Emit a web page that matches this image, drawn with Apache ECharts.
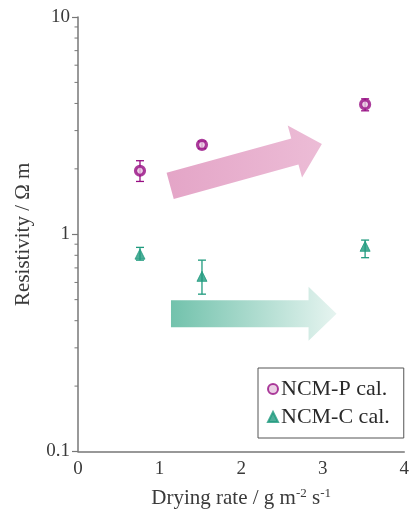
<!DOCTYPE html>
<html>
<head>
<meta charset="utf-8">
<script src="https://cdn.jsdelivr.net/npm/echarts@6/dist/echarts.min.js"></script>
<style>
  html, body { margin: 0; padding: 0; background: #fff; }
  #chart { width: 412px; height: 514px; }
</style>
</head>
<body>
<div id="chart"></div>
<script>
// data
var ncmP = [[0.76, 1.96], [1.52, 2.58], [3.52, 3.96]];
var ncmP_err = [[0.76, 1.75, 2.18], [1.52, 2.48, 2.68], [3.52, 3.70, 4.20]];
var ncmC = [[0.76, 0.81], [1.52, 0.64], [3.52, 0.88]];
var ncmC_err = [[0.76, 0.76, 0.87], [1.52, 0.53, 0.76], [3.52, 0.78, 0.94]];

// trend arrows: [x tail, y tail, x tip, y tip]
var arrowP = [[1.13, 1.67, 2.99, 2.60]];
var arrowC = [[1.14, 0.431, 3.17, 0.431]];

var yMinorTicks = [0.2, 0.3, 0.4, 0.5, 0.6, 0.7, 0.8, 0.9, 2, 3, 4, 5, 6, 7, 8, 9];

var colP = '#970e83';
var colC = '#1f9a7e';
var axisCol = '#777';
var txtCol = '#3a3a3a';
var font = '"Liberation Serif", "DejaVu Serif", serif';

var myChart = echarts.init(document.getElementById('chart'));

function errRender(color) {
    return function (params, api) {
        var x = api.value(0);
        var lo = api.coord([x, api.value(1)]);
        var hi = api.coord([x, api.value(2)]);
        var c = 4;
        var st = { stroke: color, lineWidth: 1.3 };
        return {
            type: 'group',
            children: [
                { type: 'line', shape: { x1: lo[0], y1: lo[1], x2: hi[0], y2: hi[1] }, style: st },
                { type: 'line', shape: { x1: lo[0] - c, y1: lo[1], x2: lo[0] + c, y2: lo[1] }, style: st },
                { type: 'line', shape: { x1: hi[0] - c, y1: hi[1], x2: hi[0] + c, y2: hi[1] }, style: st }
            ]
        };
    };
}

function arrowRender(c0, c1) {
    return function (params, api) {
        var a = api.coord([api.value(0), api.value(1)]);
        var b = api.coord([api.value(2), api.value(3)]);
        var dx = b[0] - a[0], dy = b[1] - a[1];
        var len = Math.sqrt(dx * dx + dy * dy);
        var ux = dx / len, uy = dy / len;
        var nx = -uy, ny = ux;
        var bw = 13.5, hw = 27, hl = 28;
        var hx = b[0] - ux * hl, hy = b[1] - uy * hl;
        var pts = [
            [a[0] + nx * bw, a[1] + ny * bw],
            [hx + nx * bw, hy + ny * bw],
            [hx + nx * hw, hy + ny * hw],
            [b[0], b[1]],
            [hx - nx * hw, hy - ny * hw],
            [hx - nx * bw, hy - ny * bw],
            [a[0] - nx * bw, a[1] - ny * bw]
        ];
        return {
            type: 'polygon',
            shape: { points: pts },
            style: {
                fill: new echarts.graphic.LinearGradient(0, 0.5, 1, 0.5, [
                    { offset: 0, color: c0 },
                    { offset: 1, color: c1 }
                ])
            }
        };
    };
}

function minorTickRender(params, api) {
    var p = api.coord([0, api.value(0)]);
    return {
        type: 'line',
        shape: { x1: p[0] - 3.5, y1: p[1], x2: p[0], y2: p[1] },
        style: { stroke: axisCol, lineWidth: 1 }
    };
}

var option = {
    animation: false,
    grid: { left: 78, right: 7, top: 17, bottom: 60 },
    xAxis: {
        type: 'value',
        min: 0, max: 4, interval: 1,
        name: 'Drying rate / g m{sup|-2} s{sup|-1}',
        nameLocation: 'middle',
        nameGap: 36,
        nameTextStyle: {
            fontFamily: font, fontSize: 21, color: txtCol,
            rich: { sup: { fontFamily: font, fontSize: 13, color: txtCol, verticalAlign: 'top', padding: [0, 0, 9, 0] } }
        },
        axisLine: { show: true, lineStyle: { color: axisCol, width: 1.5 } },
        axisTick: { show: false },
        splitLine: { show: false },
        axisLabel: { fontFamily: font, fontSize: 19, color: txtCol, margin: 8 }
    },
    yAxis: {
        type: 'log',
        logBase: 10,
        min: 0.1, max: 10,
        name: 'Resistivity / Ω m',
        nameLocation: 'middle',
        nameGap: 44,
        nameTextStyle: { fontFamily: font, fontSize: 21, color: txtCol },
        axisLine: { show: true, lineStyle: { color: axisCol, width: 1.5 } },
        axisTick: { show: true, length: 6, lineStyle: { color: axisCol, width: 1.2 } },
        splitLine: { show: false },
        axisLabel: {
            fontFamily: font, fontSize: 19, color: txtCol, margin: 8,
            formatter: function (v) { return v < 1 ? v.toFixed(1) : String(Math.round(v)); }
        }
    },
    legend: {
        orient: 'vertical',
        left: 258, top: 368,
        data: ['NCM-P cal.', 'NCM-C cal.'],
        itemWidth: 10, itemHeight: 10,
        itemGap: 6,
        padding: [10, 14, 10, 9],
        borderColor: '#555', borderWidth: 1,
        textStyle: { fontFamily: font, fontSize: 22, color: '#2a2a2a', padding: [0, 0, 0, -2] }
    },
    series: [
        {
            type: 'custom', name: 'arrowP', z: 1, silent: true,
            renderItem: arrowRender('#e4a5c7', '#ecbcd6'),
            encode: { x: [0, 2], y: [1, 3] },
            data: arrowP
        },
        {
            type: 'custom', name: 'arrowC', z: 1, silent: true,
            renderItem: arrowRender('#72c2ac', '#e6f4f0'),
            encode: { x: [0, 2], y: [1, 3] },
            data: arrowC
        },
        {
            type: 'custom', name: 'minor', silent: true, clip: false,
            renderItem: minorTickRender,
            encode: { y: 0 },
            data: yMinorTicks.map(function (v) { return [v]; })
        },
        {
            type: 'custom', name: 'errP', z: 3, silent: true,
            renderItem: errRender(colP),
            encode: { x: 0, y: [1, 2] },
            data: ncmP_err
        },
        {
            type: 'custom', name: 'errC', z: 3, silent: true,
            renderItem: errRender(colC),
            encode: { x: 0, y: [1, 2] },
            data: ncmC_err
        },
        {
            type: 'scatter', name: 'NCM-P cal.', z: 4,
            symbol: 'circle', symbolSize: 9,
            itemStyle: { color: '#e6c4de', borderColor: colP, borderWidth: 3.2 },
            data: ncmP
        },
        {
            type: 'scatter', name: 'NCM-C cal.', z: 4,
            symbol: 'triangle', symbolSize: 10,
            itemStyle: { color: colC, borderColor: colC, borderWidth: 1 },
            data: ncmC
        }
    ]
};

myChart.setOption(option);

window.addEventListener('resize', function () {
    myChart.resize();
});
</script>
</body>
</html>
